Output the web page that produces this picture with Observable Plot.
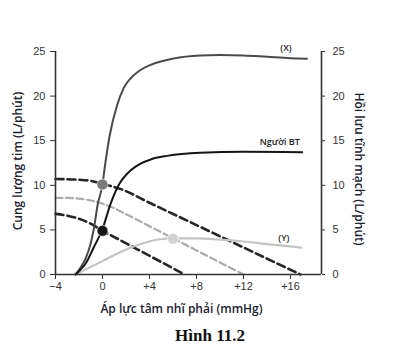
<!DOCTYPE html>
<html>
<head>
<meta charset="utf-8">
<script src="https://cdn.jsdelivr.net/npm/d3@7"></script>
<script src="https://cdn.jsdelivr.net/npm/@observablehq/plot@0.6"></script>
<style>
  html, body { margin: 0; padding: 0; background: #fff; }
  #wrap { position: relative; width: 396px; height: 356px; }
  #caption { position: absolute; left: 0; width: 420px; top: 326px; text-align: center;
    font-family: "Liberation Serif", serif; font-weight: bold; font-size: 17px; color: #111; }
</style>
</head>
<body>
<div id="wrap"><div id="chart"></div><div id="caption">Hình 11.2</div></div>
<script>
// Tick values and labels
const xTicks = [-4, 0, 4, 8, 12, 16];
const xTickLabels = ["−4", "0", "+4", "+8", "+12", "+16"];
const yTicks = [0, 5, 10, 15, 20, 25];

// Cardiac output curve (X)
const curveX_x = [-2.3, -1.9, -1.45, -1.0, -0.74, -0.4, 0, 0.15, 0.6, 1.25, 1.8, 2.4, 3.2, 4.1, 6, 8.3, 10, 12, 14, 16, 17.4];
const curveX_y = [0, 0.7, 1.75, 3.5, 5.1, 7.9, 10.1, 11.6, 15.5, 19, 20.9, 22, 22.9, 23.5, 24.2, 24.55, 24.6, 24.55, 24.4, 24.25, 24.2];

// Cardiac output curve, normal person (Người BT)
const curveBT_x = [-2.3, -1.9, -1.45, -0.74, 0, 0.68, 1.4, 2.1, 3.2, 4.1, 5.5, 8.3, 12, 17];
const curveBT_y = [0, 0.5, 1.2, 3.05, 5.1, 7.9, 10.1, 11.3, 12.4, 12.9, 13.3, 13.65, 13.75, 13.7];

// Cardiac output curve (Y)
const curveY_x = [-2.3, 0, 1.5, 3.2, 4.9, 6, 8, 10, 12, 14, 16, 16.9];
const curveY_y = [0, 1.5, 2.5, 3.4, 3.95, 4.05, 4.05, 3.9, 3.7, 3.4, 3.15, 3.0];

// Venous return curves (dashed)
const vrHigh_x = [-4, -3, -2, -1, 0, 1, 1.5, 4, 8, 12, 16.85];
const vrHigh_y = [10.7, 10.68, 10.62, 10.5, 10.15, 9.8, 9.6, 8.04, 5.54, 3.03, 0];
const vrMid_x = [-4, -3, -2, -1, 0, 1, 1.5, 4, 6, 8, 12];
const vrMid_y = [8.6, 8.58, 8.5, 8.3, 7.95, 7.42, 7.1, 5.41, 4.06, 2.7, 0];
const vrLow_x = [-4, -3, -2, -1, 0, 1, 3, 5, 7];
const vrLow_y = [6.8, 6.6, 6.25, 5.7, 4.9, 4.2, 2.8, 1.4, 0];

// Equilibrium points
const dot_x = [0, 0, 6];
const dot_y = [10.1, 4.9, 4.0];
const dot_fill = ["#7a7a7a", "#161616", "#d2d2d2"];

// Curve labels
const curveLabels = ["(X)", "Người BT", "(Y)"];
const curveLabel_x = [16.1, 16.8, 15.9];
const curveLabel_y = [25.4, 14.8, 4.1];

const pts = (xs, ys) => xs.map((x, i) => ({x, y: ys[i]}));
const xMax = 18.64;
const titleFont = {fontSize: 12, fontWeight: 600, fill: "#1b2230", fontFamily: "Open Sans, sans-serif", textAnchor: "middle", lineAnchor: "middle"};

const chart = Plot.plot({
  width: 396,
  height: 318,
  marginLeft: 55,
  marginRight: 75,
  marginTop: 51,
  marginBottom: 44,
  style: {fontFamily: "Liberation Sans, Arial, sans-serif", fontSize: "11px", color: "#333", background: "#fff"},
  x: {domain: [-4, xMax]},
  y: {domain: [0, 25]},
  marks: [
    // dashed venous return curves
    Plot.line(pts(vrMid_x, vrMid_y), {x: "x", y: "y", curve: "monotone-x", stroke: "#acacac", strokeWidth: 2.2, strokeDasharray: "7,3.5"}),
    Plot.line(pts(vrHigh_x, vrHigh_y), {x: "x", y: "y", curve: "monotone-x", stroke: "#262626", strokeWidth: 2.6, strokeDasharray: "8,4"}),
    Plot.line(pts(vrLow_x, vrLow_y), {x: "x", y: "y", curve: "monotone-x", stroke: "#262626", strokeWidth: 2.6, strokeDasharray: "8,4"}),
    // cardiac output curves
    Plot.line(pts(curveY_x, curveY_y), {x: "x", y: "y", curve: "monotone-x", stroke: "#c4c4c4", strokeWidth: 2.2}),
    Plot.line(pts(curveX_x, curveX_y), {x: "x", y: "y", curve: "monotone-x", stroke: "#4a4a4a", strokeWidth: 2}),
    Plot.line(pts(curveBT_x, curveBT_y), {x: "x", y: "y", curve: "monotone-x", stroke: "#151515", strokeWidth: 2}),
    // dots
    Plot.dot(dot_x.map((x, i) => ({x, y: dot_y[i], f: dot_fill[i]})), {x: "x", y: "y", r: 5.5, fill: "f", stroke: "#fff", strokeWidth: 0.6}),
    // axis lines
    Plot.ruleY([0], {stroke: "#333", strokeWidth: 1.6}),
    Plot.ruleX([-4], {stroke: "#333", strokeWidth: 1.6}),
    Plot.ruleX([xMax], {stroke: "#333", strokeWidth: 1.6}),
    // axes
    Plot.axisX({ticks: xTicks, tickFormat: (d) => xTickLabels[xTicks.indexOf(d)], tickSize: 5, tickPadding: 3, label: null, stroke: "#333", fill: "#333"}),
    Plot.axisY({anchor: "left", ticks: yTicks, tickSize: 5, tickPadding: 5, label: null, fill: "#333"}),
    Plot.axisY({anchor: "right", ticks: yTicks, tickSize: 3, tickPadding: 8, label: null, fill: "#333"}),
    // curve labels
    Plot.text(curveLabels.map((t, i) => ({t, x: curveLabel_x[i], y: curveLabel_y[i]})), {x: "x", y: "y", text: "t", textAnchor: "end", fontSize: 9, fill: "#222", fontWeight: 600, fontFamily: "Open Sans, sans-serif"}),
    // axis titles
    Plot.text(["Áp lực tâm nhĩ phải (mmHg)"], {frameAnchor: "bottom", dx: -7, dy: 35, ...titleFont}),
    Plot.text(["Cung lượng tim (L/phút)"], {frameAnchor: "left", rotate: -90, dx: -37, dy: -2, ...titleFont}),
    Plot.text(["Hồi lưu tĩnh mạch (L/phút)"], {frameAnchor: "right", rotate: 90, dx: 37, dy: 6, ...titleFont})
  ]
});
document.getElementById("chart").appendChild(chart);
</script>
</body>
</html>
